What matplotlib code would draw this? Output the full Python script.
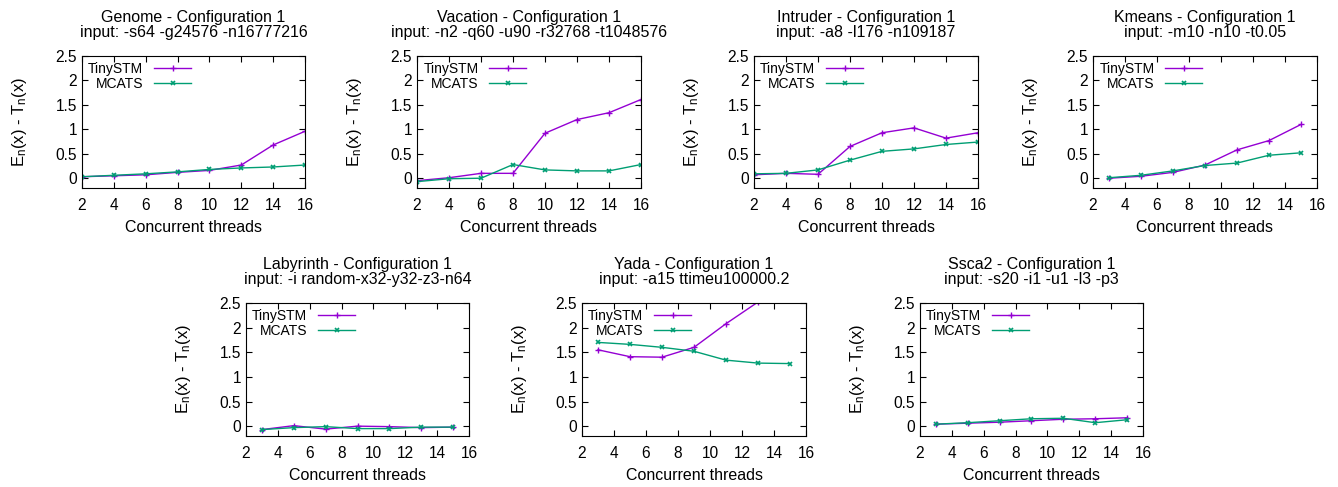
import numpy as np
import matplotlib
matplotlib.use('Agg')
import matplotlib.pyplot as plt
from matplotlib.ticker import FormatStrFormatter

plt.rcParams['font.family'] = ['Liberation Sans', 'DejaVu Sans']
plt.rcParams['font.size'] = 11
plt.rcParams['mathtext.default'] = 'regular'

# x values
x_even = [2, 4, 6, 8, 10, 12, 14, 16]
x_odd = [3, 5, 7, 9, 11, 13, 15]

# Genome
genome_tiny = [0.03, 0.05, 0.07, 0.12, 0.16, 0.27, 0.68, 0.96]
genome_mcats = [0.03, 0.06, 0.09, 0.13, 0.18, 0.21, 0.23, 0.27]
# Vacation
vacation_tiny = [-0.05, 0.01, 0.10, 0.10, 0.92, 1.20, 1.34, 1.61]
vacation_mcats = [-0.07, -0.01, 0.00, 0.28, 0.17, 0.15, 0.15, 0.28]
# Intruder
intruder_tiny = [0.07, 0.10, 0.08, 0.65, 0.93, 1.03, 0.82, 0.93]
intruder_mcats = [0.09, 0.10, 0.17, 0.37, 0.55, 0.60, 0.69, 0.74]
# Kmeans
kmeans_tiny = [0.00, 0.04, 0.12, 0.27, 0.58, 0.77, 1.10]
kmeans_mcats = [0.01, 0.06, 0.15, 0.26, 0.31, 0.47, 0.52]
# Labyrinth
labyrinth_tiny = [-0.07, 0.01, -0.06, 0.00, -0.01, -0.03, -0.02]
labyrinth_mcats = [-0.07, -0.03, -0.01, -0.05, -0.05, -0.02, -0.02]
# Yada
yada_tiny = [1.55, 1.41, 1.40, 1.60, 2.08, 2.52, 3.00]
yada_mcats = [1.70, 1.66, 1.60, 1.52, 1.34, 1.28, 1.27]
# Ssca2
ssca2_tiny = [0.04, 0.06, 0.08, 0.11, 0.14, 0.15, 0.17]
ssca2_mcats = [0.04, 0.07, 0.11, 0.15, 0.16, 0.07, 0.13]

titles = ['Genome - Configuration 1\ninput: -s64 -g24576 -n16777216',
          'Vacation - Configuration 1\ninput: -n2 -q60 -u90 -r32768 -t1048576',
          'Intruder - Configuration 1\ninput: -a8 -l176 -n109187',
          'Kmeans - Configuration 1\ninput: -m10 -n10 -t0.05',
          'Labyrinth - Configuration 1\ninput: -i random-x32-y32-z3-n64',
          'Yada - Configuration 1\ninput: -a15 ttimeu100000.2',
          'Ssca2 - Configuration 1\ninput: -s20 -i1 -u1 -l3 -p3']

panels = [(x_even, genome_tiny, genome_mcats),
          (x_even, vacation_tiny, vacation_mcats),
          (x_even, intruder_tiny, intruder_mcats),
          (x_odd, kmeans_tiny, kmeans_mcats),
          (x_odd, labyrinth_tiny, labyrinth_mcats),
          (x_odd, yada_tiny, yada_mcats),
          (x_odd, ssca2_tiny, ssca2_mcats)]

W, H = 1338, 487
# pixel boxes: left, top, right, bottom
boxes = [(82, 56, 305, 188), (417, 56, 641, 188), (754, 56, 978, 188), (1093, 56, 1317, 188),
         (246, 303, 469, 436), (582, 303, 806, 436), (920, 303, 1143, 436)]

fig = plt.figure(figsize=(W / 100, H / 100), dpi=100)

tinyStyle = dict(color='#9400D3', marker='+', markersize=4, lw=1, label='TinySTM')
mcatsStyle = dict(color='#009E73', marker='x', markersize=3.5, mew=1.2, lw=1, label='MCATS')

for (x, tiny, mcats), title, (l, t, r, b) in zip(panels, titles, boxes):
    ax = fig.add_axes([l / W, (H - b) / H, (r - l) / W, (b - t) / H])
    ax.plot(x, tiny, **tinyStyle)
    ax.plot(x, mcats, **mcatsStyle)
    ax.set_xlim(2, 16)
    ax.set_ylim(-0.2, 2.5)
    ax.set_xticks(np.arange(2, 17, 2))
    ax.set_yticks(np.arange(0, 2.51, 0.5))
    ax.yaxis.set_major_formatter(FormatStrFormatter('%g'))
    ax.tick_params(direction='in', top=True, right=True, length=4, labelsize=11.2)
    ax.tick_params(axis='x', pad=7)
    ax.set_title(title, fontsize=11.5, linespacing=1.0, pad=14)
    ax.set_xlabel('Concurrent threads', fontsize=11.5, labelpad=5)
    ax.set_ylabel('E$_n$(x) - T$_n$(x)', fontsize=12, labelpad=19)
    ax.legend(loc='upper left', frameon=False, markerfirst=False, fontsize=10,
              handlelength=2.6, borderaxespad=0.3, labelspacing=0.05, borderpad=0.15)

fig.savefig('out.png', dpi=100)
